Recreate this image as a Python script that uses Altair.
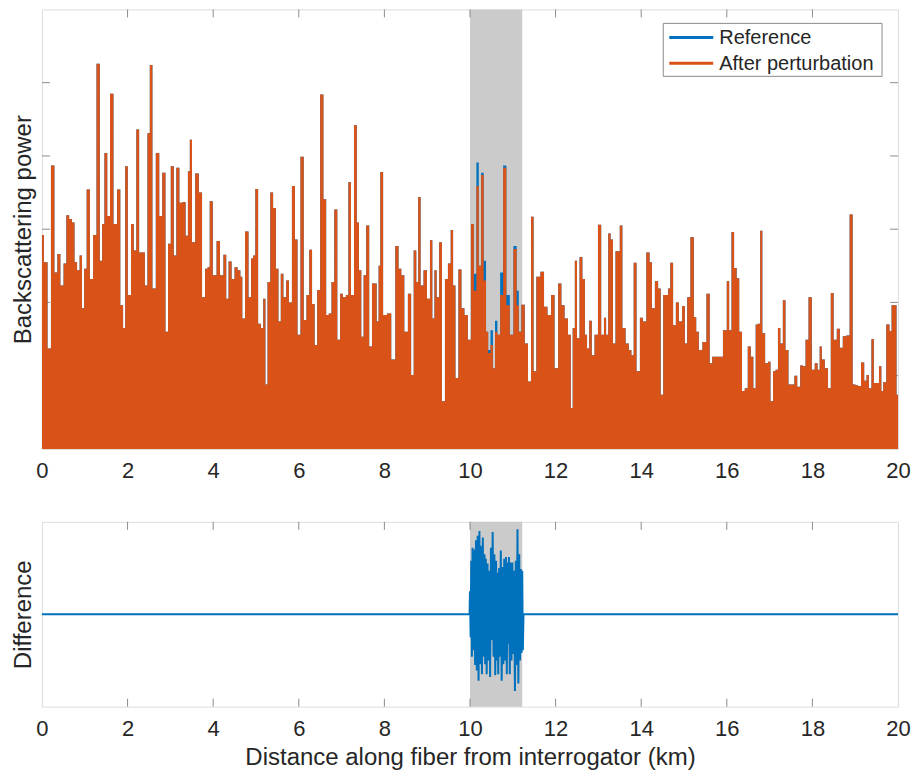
import altair as alt
import pandas as pd

# ---------------- data ----------------
series_names = ["Reference", "After perturbation"]
series_colors = ["#0072BD", "#D95319"]

# backscattering power outside the perturbed zone (both traces coincide there)
pwr_km = [0.0, 0.09, 0.17, 0.25, 0.33, 0.39, 0.47, 0.54, 0.60, 0.67, 0.73, 0.79, 0.85, 0.91, 0.96,
          1.01, 1.08, 1.16, 1.23, 1.32, 1.38, 1.43, 1.49, 1.56, 1.62, 1.72, 1.79, 1.87, 1.92, 1.97,
          2.04, 2.12, 2.17, 2.24, 2.30, 2.37, 2.44, 2.49, 2.55, 2.61, 2.71, 2.77, 2.85, 2.92, 2.97,
          3.05, 3.11, 3.17, 3.25, 3.32, 3.39, 3.43, 3.48, 3.53, 3.63, 3.70, 3.78, 3.84, 3.90, 3.94,
          4.04, 4.12, 4.20, 4.28, 4.33, 4.39, 4.47, 4.53, 4.61, 4.66, 4.70, 4.79, 4.86, 4.91, 4.96,
          5.01, 5.09, 5.14, 5.20, 5.24, 5.30, 5.37, 5.43, 5.50, 5.55, 5.61, 5.67, 5.74, 5.80, 5.88,
          5.94, 6.00, 6.08, 6.15, 6.21, 6.28, 6.34, 6.40, 6.46, 6.54, 6.61, 6.67, 6.73, 6.80, 6.86,
          6.94, 6.99, 7.07, 7.13, 7.19, 7.25, 7.33, 7.38, 7.43, 7.49, 7.54, 7.61, 7.68, 7.74, 7.79,
          7.85, 7.88, 7.93, 8.01, 8.11, 8.21, 8.30, 8.36, 8.43, 8.50, 8.60, 8.65, 8.72, 8.77, 8.81,
          8.88, 8.95, 9.04, 9.09, 9.15, 9.19, 9.25, 9.31, 9.38, 9.45, 9.52, 9.58, 9.63, 9.69, 9.77,
          9.83, 9.91, 9.99,
          11.32, 11.39, 11.46, 11.51, 11.59, 11.70, 11.76, 11.86, 11.93, 12.02, 12.10, 12.17, 12.25,
          12.33, 12.38, 12.42, 12.48, 12.52, 12.60, 12.65, 12.72, 12.75, 12.82, 12.87, 12.95, 13.03,
          13.10, 13.16, 13.20, 13.26, 13.31, 13.37, 13.43, 13.47, 13.53, 13.59, 13.68, 13.74, 13.80,
          13.85, 13.93, 14.01, 14.07, 14.17, 14.22, 14.28, 14.36, 14.43, 14.48, 14.55, 14.61, 14.65,
          14.71, 14.78, 14.84, 14.92, 14.99, 15.05, 15.10, 15.20, 15.26, 15.31, 15.38, 15.48, 15.57,
          15.63, 15.69, 15.77, 15.85, 15.97, 16.03, 16.08, 16.14, 16.20, 16.26, 16.32, 16.39, 16.45,
          16.53, 16.59, 16.65, 16.70, 16.76, 16.80, 16.86, 16.93, 16.99, 17.05, 17.11, 17.17, 17.22,
          17.28, 17.34, 17.40, 17.48, 17.55, 17.61, 17.68, 17.75, 17.81, 17.87, 17.95, 18.02, 18.09,
          18.15, 18.19, 18.25, 18.33, 18.40, 18.46, 18.53, 18.61, 18.67, 18.75, 18.83, 18.91, 18.97,
          19.04, 19.09, 19.18, 19.24, 19.29, 19.35, 19.41, 19.46, 19.52, 19.59, 19.63, 19.68, 19.77,
          19.83, 19.87, 19.93, 20.0]
pwr_val = [2.92, 2.55, 1.37, 3.87, 2.41, 2.66, 2.23, 2.53, 3.19, 3.14, 3.09, 2.55, 2.44, 2.64, 1.92,
           2.46, 3.54, 2.32, 2.92, 5.26, 2.57, 3.07, 4.04, 3.18, 4.85, 3.07, 3.54, 1.96, 1.65, 3.86,
           2.10, 3.07, 2.71, 4.36, 2.68, 2.68, 2.23, 4.31, 5.24, 2.19, 4.04, 3.18, 3.77, 1.60, 2.80,
           3.86, 2.64, 3.84, 3.36, 3.37, 2.91, 3.79, 4.22, 2.82, 3.76, 3.50, 2.07, 2.46, 2.48, 3.38,
           2.37, 2.84, 2.37, 2.65, 2.05, 2.56, 2.32, 2.48, 2.44, 2.35, 1.78, 2.97, 2.07, 2.60, 2.64,
           3.55, 1.71, 1.65, 2.05, 0.88, 2.28, 3.50, 3.29, 2.46, 1.74, 2.39, 2.07, 2.30, 2.00, 3.59,
           2.86, 1.56, 3.99, 1.76, 2.10, 2.72, 1.98, 1.42, 2.17, 4.84, 3.41, 1.83, 1.85, 2.28, 3.27,
           1.49, 2.12, 2.07, 2.10, 3.64, 2.10, 4.42, 3.09, 2.44, 1.53, 2.37, 3.05, 1.40, 2.26, 2.26,
           1.74, 2.50, 3.78, 1.83, 1.85, 1.22, 2.77, 2.46, 2.37, 1.60, 2.12, 1.01, 2.71, 2.28, 3.44,
           2.23, 2.44, 2.05, 2.85, 1.78, 2.44, 2.07, 2.82, 0.65, 2.32, 2.53, 2.99, 2.23, 0.97, 2.45,
           1.92, 1.83, 1.49,
           1.44, 0.92, 3.17, 1.06, 2.35, 2.42, 1.94, 1.83, 2.10, 1.10, 2.26, 1.96, 1.78,
           1.56, 0.56, 1.65, 2.57, 1.51, 2.62, 2.32, 1.56, 1.37, 1.75, 1.28, 1.56, 3.06,
           1.56, 1.79, 1.56, 2.94, 2.86, 1.44, 2.70, 2.70, 3.05, 1.65, 1.44, 1.35, 1.28,
           2.54, 1.06, 1.79, 1.74, 2.68, 2.55, 1.92, 2.29, 2.19, 0.74, 2.10, 2.10, 2.19,
           2.54, 1.69, 2.00, 1.74, 1.95, 1.44, 2.07, 2.89, 1.80, 1.60, 1.35, 1.46, 2.12,
           1.17, 1.26, 1.26, 1.26, 1.62, 2.29, 1.62, 2.96, 2.47, 2.33, 1.60, 0.79, 0.83,
           1.40, 1.26, 0.83, 1.70, 1.71, 2.98, 1.58, 1.17, 1.19, 0.65, 1.06, 1.08, 1.65,
           1.44, 2.03, 1.35, 0.88, 0.88, 1.00, 0.85, 1.14, 1.13, 1.49, 2.07, 1.08, 1.17,
           1.08, 1.40, 1.22, 1.10, 0.83, 2.13, 1.49, 1.64, 1.38, 1.54, 1.55, 3.20, 0.88,
           0.87, 0.86, 1.18, 0.93, 1.01, 0.83, 1.50, 0.90, 0.90, 1.13, 0.79, 0.91, 1.70,
           1.61, 1.96, 1.96, 0.74]

# inside the perturbed zone: reference vs. after perturbation
zone_km = [10.06, 10.12, 10.18, 10.23, 10.29, 10.35, 10.40, 10.45, 10.51, 10.56, 10.61, 10.67,
           10.74, 10.81, 10.89, 10.97, 11.06, 11.12, 11.16, 11.24]
ref_zone = [3.07, 2.39, 3.91, 2.50, 3.77, 2.57, 1.60, 1.35, 1.62, 1.10, 1.75, 1.56,
            2.41, 3.87, 2.10, 1.56, 2.77, 2.16, 1.60, 1.97]
pert_zone = [3.07, 2.16, 3.59, 2.50, 3.74, 2.30, 1.60, 1.31, 1.42, 1.10, 1.60, 1.56,
             2.10, 3.84, 1.96, 1.56, 2.73, 1.96, 1.60, 1.97]

# difference trace: upper and lower swings inside the zone, zero elsewhere
diff_hi_km = [10.00, 10.03, 10.06, 10.10, 10.14, 10.18, 10.22, 10.26, 10.30, 10.34, 10.37,
              10.41, 10.45, 10.49, 10.53, 10.57, 10.61, 10.64, 10.68, 10.72, 10.76, 10.80,
              10.84, 10.88, 10.91, 10.95, 10.99, 11.03, 11.07, 11.11, 11.15, 11.19, 11.22]
diff_hi = [0.25, 0.58, 0.72, 0.70, 0.80, 0.85, 0.90, 0.74, 0.83, 0.65, 0.60,
           0.55, 0.47, 0.72, 0.89, 0.65, 0.58, 0.45, 0.50, 0.69, 0.51, 0.60,
           0.62, 0.56, 0.62, 0.56, 0.56, 0.47, 0.58, 0.92, 0.65, 0.49, 0.47]
diff_lo_km = [10.015, 10.045, 10.08, 10.12, 10.16, 10.20, 10.24, 10.28, 10.32, 10.355, 10.39,
              10.43, 10.47, 10.51, 10.55, 10.59, 10.625, 10.66, 10.70, 10.74, 10.78, 10.82,
              10.86, 10.895, 10.93, 10.97, 11.01, 11.05, 11.09, 11.13, 11.17, 11.205, 11.235]
diff_lo = [-0.25, -0.46, -0.39, -0.55, -0.61, -0.72, -0.54, -0.65, -0.46, -0.54, -0.65,
           -0.50, -0.68, -0.28, -0.46, -0.66, -0.50, -0.65, -0.46, -0.72, -0.54, -0.50,
           -0.65, -0.32, -0.65, -0.50, -0.43, -0.83, -0.55, -0.75, -0.50, -0.42, -0.39]
diff_flat_km = [0.0, 9.99, 11.25, 20.0]
diff_flat = [0.0, 0.0, 0.0, 0.0]

zone_limits = [10.0, 11.22]
x_ticks = [0, 2, 4, 6, 8, 10, 12, 14, 16, 18, 20]
inner_x_ticks = [2, 4, 6, 8, 10, 12, 14, 16, 18]
y_ticks_top = [1, 2, 3, 4, 5]

# ---------------- tables ----------------
ref_df = pd.DataFrame({"km": pwr_km + zone_km, "v": pwr_val + ref_zone}).sort_values("km")
pert_df = pd.DataFrame({"km": pwr_km + zone_km, "v": pwr_val + pert_zone}).sort_values("km")
diff_df = pd.DataFrame({"km": diff_flat_km + diff_hi_km + diff_lo_km,
                        "v": diff_flat + diff_hi + diff_lo}).sort_values("km")
zone_df = pd.DataFrame({"a": [zone_limits[0]], "b": [zone_limits[1]]})
xt_df = pd.DataFrame({"t": inner_x_ticks})
yt_df = pd.DataFrame({"t": y_ticks_top})

FONT = "Liberation Sans"
GREY = "#8c8c8c"
TXT = "#262626"
W, H1, H2 = 857, 440, 185
TL = 8

xscale = alt.Scale(domain=[0, 20], nice=False, zero=False)
y1scale = alt.Scale(domain=[0, 6], nice=False)
y2scale = alt.Scale(domain=[-1, 1], nice=False)


def x_axis(title):
    return alt.Axis(values=x_ticks, ticks=False, tickSize=0, domain=False, grid=False,
                    labelFontSize=22, labelFont=FONT, labelColor=TXT, labelPadding=12,
                    labelFlush=False, format="d", title=title, titleFont=FONT,
                    titleFontSize=24, titleFontWeight="normal", titleColor=TXT, titlePadding=6)


def y_axis(title):
    return alt.Axis(labels=False, ticks=False, tickSize=0, domain=False, grid=False,
                    title=title, titleFont=FONT, titleFontSize=24, titleFontWeight="normal",
                    titleColor=TXT, titlePadding=6)


def panel(height, xtitle, ytitle, yscale, with_y, data_layers):
    xa = x_axis(xtitle)
    ya = y_axis(ytitle)
    zone = alt.Chart(zone_df).mark_rect(color="#cbcbcb").encode(
        x=alt.X("a:Q", scale=xscale, axis=xa), x2="b:Q",
        y=alt.value(0), y2=alt.value(height))
    layers = [
        zone,
        alt.Chart(xt_df).mark_rule(color=GREY, strokeWidth=1).encode(
            x=alt.X("t:Q", scale=xscale, axis=xa), y=alt.value(0), y2=alt.value(TL)),
        alt.Chart(xt_df).mark_rule(color=GREY, strokeWidth=1).encode(
            x=alt.X("t:Q", scale=xscale, axis=xa), y=alt.value(height), y2=alt.value(height - TL)),
    ]
    if with_y:
        layers += [
            alt.Chart(yt_df).mark_rule(color=GREY, strokeWidth=1).encode(
                y=alt.Y("t:Q", scale=yscale, axis=ya), x=alt.value(0), x2=alt.value(TL)),
            alt.Chart(yt_df).mark_rule(color=GREY, strokeWidth=1).encode(
                y=alt.Y("t:Q", scale=yscale, axis=ya), x=alt.value(W), x2=alt.value(W - TL)),
        ]
    layers += [lay(xa, ya) for lay in data_layers]
    return alt.layer(*layers).properties(width=W, height=height)


def ref_area(xa, ya):
    return alt.Chart(ref_df).mark_area(interpolate="step", color=series_colors[0]).encode(
        x=alt.X("km:Q", scale=xscale, axis=xa), y=alt.Y("v:Q", scale=y1scale, axis=ya))


def pert_area(xa, ya):
    return alt.Chart(pert_df).mark_area(interpolate="step", color=series_colors[1]).encode(
        x=alt.X("km:Q", scale=xscale, axis=xa), y=alt.Y("v:Q", scale=y1scale, axis=ya))


leg_df0 = pd.DataFrame({"name": [series_names[0]]})
leg_df1 = pd.DataFrame({"name": [series_names[1]]})
LX = W - 235


def legend_box(xa, ya):
    return alt.Chart(leg_df0).mark_rect(fill="white", stroke=GREY, strokeWidth=1).encode(
        x=alt.value(LX), x2=alt.value(LX + 219), y=alt.value(14), y2=alt.value(67))


def leg_line0(xa, ya):
    return alt.Chart(leg_df0).mark_rule(color=series_colors[0], strokeWidth=3).encode(
        x=alt.value(LX + 6), x2=alt.value(LX + 50), y=alt.value(28))


def leg_line1(xa, ya):
    return alt.Chart(leg_df1).mark_rule(color=series_colors[1], strokeWidth=3).encode(
        x=alt.value(LX + 6), x2=alt.value(LX + 50), y=alt.value(54))


def leg_txt0(xa, ya):
    return alt.Chart(leg_df0).mark_text(align="left", baseline="middle", fontSize=20,
                                        font=FONT, color=TXT).encode(
        x=alt.value(LX + 56), y=alt.value(29), text="name:N")


def leg_txt1(xa, ya):
    return alt.Chart(leg_df1).mark_text(align="left", baseline="middle", fontSize=20,
                                        font=FONT, color=TXT).encode(
        x=alt.value(LX + 56), y=alt.value(55), text="name:N")


def diff_line(xa, ya):
    return alt.Chart(diff_df).mark_line(color=series_colors[0], strokeWidth=2).encode(
        x=alt.X("km:Q", scale=xscale, axis=xa),
        y=alt.Y("v:Q", scale=y2scale, axis=ya),
        order="km:Q")


top = panel(H1, "", "Backscattering power", y1scale, True,
            [ref_area, pert_area, legend_box, leg_line0, leg_line1, leg_txt0, leg_txt1])
bottom = panel(H2, "Distance along fiber from interrogator (km)", "Difference", y2scale, False,
               [diff_line])

chart = alt.vconcat(top, bottom, spacing=38).properties(
    padding={"left": 3, "top": 0, "right": 0, "bottom": 0}
).configure_view(stroke=GREY, strokeWidth=1).configure(background="white")

chart.save("out.html", embed_options={"renderer": "svg", "actions": False})
